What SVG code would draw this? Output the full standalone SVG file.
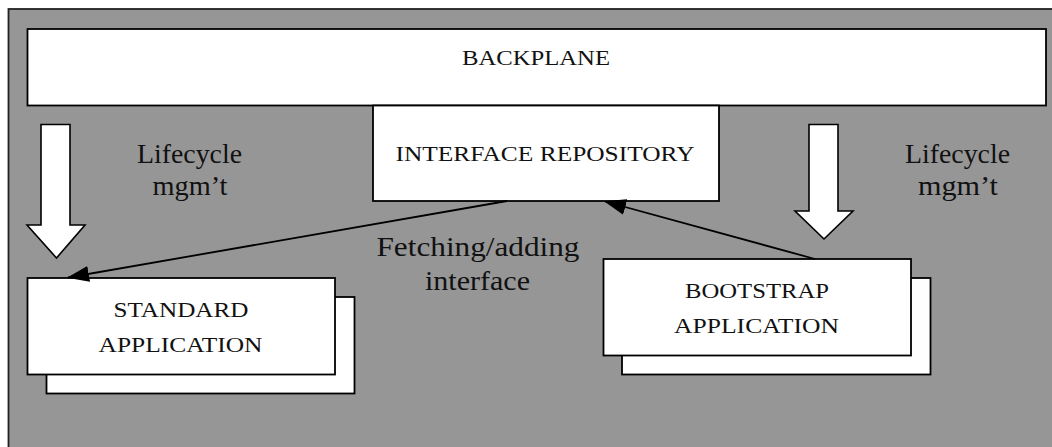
<svg xmlns="http://www.w3.org/2000/svg" width="1052" height="447" viewBox="0 0 1052 447">
<defs>
<style>
.box{fill:#ffffff;stroke:#000000;stroke-width:1.8}
.hollow{fill:#ffffff;stroke:#000000;stroke-width:1.6;stroke-linejoin:miter}
.lbl{font-family:'Liberation Serif','DejaVu Serif',serif;fill:#111111;text-anchor:middle}
.cap{font-size:21px}
.big{font-size:27px}
.conn{fill:none;stroke:#000000;stroke-width:1.8}
</style>
<marker id="ah" markerUnits="userSpaceOnUse" markerWidth="22" markerHeight="16" viewBox="0 0 22 16" refX="21" refY="8" orient="auto">
<path d="M0,0 L22,8 L0,16 Z" fill="#000000"/>
</marker>
</defs>
<rect x="0" y="0" width="1052" height="447" fill="#ffffff"/>
<rect id="frame" x="8.5" y="9" width="1070" height="470" fill="#969696" stroke="#222222" stroke-width="1.8"/>

<g id="backplane">
<rect class="box" x="27.5" y="29" width="1018.5" height="76.5"/>
<text class="lbl cap" font-family="Liberation Serif, DejaVu Serif, serif" x="536" y="65" textLength="148" lengthAdjust="spacingAndGlyphs">BACKPLANE</text>
</g>

<g id="interface-repository">
<rect class="box" x="373" y="105.5" width="346" height="95.5"/>
<text class="lbl cap" font-family="Liberation Serif, DejaVu Serif, serif" x="545" y="161" textLength="299" lengthAdjust="spacingAndGlyphs">INTERFACE REPOSITORY</text>
</g>

<g id="lifecycle-left">
<polygon class="hollow" points="41,124.5 70,124.5 70,225 85,225 56.5,258 27,225 41,225"/>
<text class="lbl big" font-family="Liberation Serif, DejaVu Serif, serif" x="189.5" y="163" textLength="105" lengthAdjust="spacingAndGlyphs">Lifecycle</text>
<text class="lbl big" font-family="Liberation Serif, DejaVu Serif, serif" x="190" y="195" textLength="75" lengthAdjust="spacingAndGlyphs">mgm’t</text>
</g>

<g id="lifecycle-right">
<polygon class="hollow" points="809,124.5 838,124.5 838,211 853,211 824,239 795,211 809,211"/>
<text class="lbl big" font-family="Liberation Serif, DejaVu Serif, serif" x="957.5" y="163" textLength="105" lengthAdjust="spacingAndGlyphs">Lifecycle</text>
<text class="lbl big" font-family="Liberation Serif, DejaVu Serif, serif" x="958" y="195" textLength="80" lengthAdjust="spacingAndGlyphs">mgm’t</text>
</g>

<g id="standard-application">
<rect class="box" x="46.5" y="297" width="308" height="96.5"/>
<rect class="box" x="27.5" y="278" width="307.5" height="96.5"/>
<text class="lbl cap" font-family="Liberation Serif, DejaVu Serif, serif" x="181" y="317" textLength="135" lengthAdjust="spacingAndGlyphs">STANDARD</text>
<text class="lbl cap" font-family="Liberation Serif, DejaVu Serif, serif" x="180.5" y="351.5" textLength="164" lengthAdjust="spacingAndGlyphs">APPLICATION</text>
</g>

<g id="bootstrap-application">
<rect class="box" x="622" y="278" width="308.5" height="96.5"/>
<rect class="box" x="603.5" y="259" width="307.5" height="96.5"/>
<text class="lbl cap" font-family="Liberation Serif, DejaVu Serif, serif" x="757" y="297.5" textLength="144" lengthAdjust="spacingAndGlyphs">BOOTSTRAP</text>
<text class="lbl cap" font-family="Liberation Serif, DejaVu Serif, serif" x="756.5" y="332.5" textLength="165" lengthAdjust="spacingAndGlyphs">APPLICATION</text>
</g>

<g id="connectors">
<path class="conn" d="M507,201 L68,277.5" marker-end="url(#ah)"/>
<path class="conn" d="M815,259 L605,201.5" marker-end="url(#ah)"/>
<text class="lbl big" font-family="Liberation Serif, DejaVu Serif, serif" x="478" y="256" textLength="203" lengthAdjust="spacingAndGlyphs">Fetching/adding</text>
<text class="lbl big" font-family="Liberation Serif, DejaVu Serif, serif" x="477.5" y="290" textLength="105" lengthAdjust="spacingAndGlyphs">interface</text>
</g>
</svg>
